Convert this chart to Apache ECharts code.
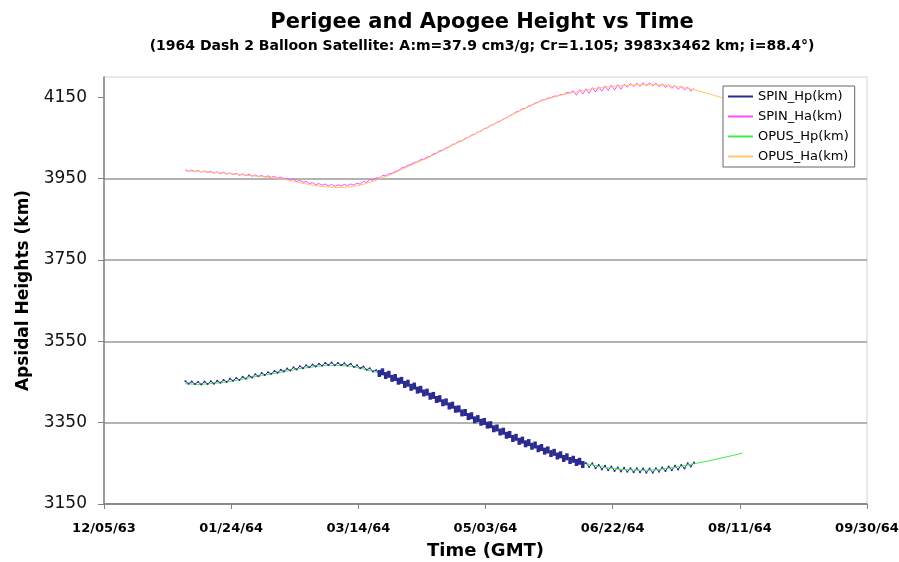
<!DOCTYPE html>
<html>
<head>
<meta charset="utf-8">
<script src="https://cdn.jsdelivr.net/npm/echarts@6/dist/echarts.min.js"></script>
<style>
    html, body { margin: 0; padding: 0; background: #fff; }
    #chartDom { width: 899px; height: 562px; }
</style>
</head>
<body>
<div id="chartDom"></div>
<script>
// x values are days after 12/05/63
const xTickLabels = ['12/05/63', '01/24/64', '03/14/64', '05/03/64', '06/22/64', '08/11/64', '09/30/64'];
const yTickValues = [3150, 3350, 3550, 3750, 3950, 4150];

// SPIN solution: one value every 1.25 days starting on day 32
const spinStart = 32;
const spinStep = 1.25;
const spinHp = [
    3452, 3446, 3451, 3445, 3450, 3444, 3451, 3445,
    3452, 3446, 3453, 3448, 3455, 3450, 3458, 3453,
    3460, 3455, 3463, 3458, 3466, 3461, 3469, 3464,
    3472, 3467, 3474, 3470, 3477, 3473, 3480, 3476,
    3483, 3478, 3486, 3481, 3489, 3484, 3491, 3486,
    3493, 3488, 3495, 3490, 3497, 3492, 3498, 3491,
    3497, 3491, 3496, 3490, 3495, 3487, 3491, 3484,
    3488, 3480, 3484, 3476, 3479, 3471, 3475, 3466,
    3469, 3459, 3461, 3452, 3454, 3444, 3447, 3437,
    3440, 3430, 3432, 3423, 3425, 3415, 3417, 3407,
    3409, 3399, 3401, 3391, 3393, 3383, 3384, 3374,
    3375, 3365, 3367, 3357, 3360, 3351, 3353, 3344,
    3345, 3335, 3337, 3327, 3329, 3319, 3321, 3311,
    3314, 3304, 3307, 3298, 3301, 3292, 3295, 3286,
    3289, 3280, 3283, 3274, 3277, 3268, 3271, 3262,
    3266, 3257, 3260, 3252, 3255, 3247, 3251, 3241,
    3250, 3238, 3246, 3235, 3244, 3233, 3242, 3231,
    3240, 3230, 3239, 3229, 3238, 3228, 3238, 3228,
    3237, 3227, 3237, 3227, 3238, 3229, 3240, 3231,
    3242, 3233, 3244, 3235, 3246, 3237, 3250, 3242,
    3252
];
const spinHa = [
    3972, 3968, 3971, 3967, 3970, 3966, 3969, 3965,
    3968, 3963, 3967, 3962, 3966, 3961, 3964, 3960,
    3963, 3958, 3962, 3957, 3961, 3956, 3959, 3955,
    3958, 3954, 3957, 3953, 3956, 3951, 3954, 3949,
    3951, 3946, 3949, 3943, 3946, 3941, 3943, 3938,
    3940, 3935, 3938, 3934, 3937, 3932, 3936, 3931,
    3935, 3932, 3936, 3933, 3937, 3934, 3939, 3936,
    3943, 3941, 3948, 3946, 3952, 3951, 3958, 3957,
    3962, 3963, 3968, 3970, 3976, 3978, 3983, 3985,
    3990, 3991, 3997, 3998, 4003, 4005, 4011, 4013,
    4019, 4020, 4026, 4028, 4034, 4036, 4042, 4043,
    4049, 4051, 4057, 4059, 4065, 4067, 4073, 4075,
    4081, 4083, 4089, 4091, 4097, 4099, 4105, 4108,
    4114, 4116, 4122, 4123, 4129, 4131, 4136, 4138,
    4143, 4144, 4148, 4149, 4153, 4153, 4157, 4157,
    4162, 4161, 4166, 4155, 4169, 4158, 4171, 4160,
    4174, 4163, 4176, 4165, 4178, 4167, 4180, 4168,
    4181, 4170, 4182, 4175, 4184, 4176, 4185, 4177,
    4186, 4178, 4186, 4178, 4185, 4176, 4183, 4174,
    4181, 4172, 4179, 4170, 4177, 4168, 4175, 4165,
    4172
];

// OPUS solution
const opusDays = [32, 37, 42, 47, 52, 57, 62, 67, 72, 77, 82, 87, 92, 97, 102, 107, 112, 117, 122, 127,
    132, 137, 142, 147, 152, 157, 162, 167, 172, 177, 182, 187, 192, 197, 202, 207, 212, 217, 222, 227,
    232, 237, 242, 247, 251];
const opusHp = [3446, 3444, 3446, 3449, 3454, 3460, 3466, 3471, 3477, 3483, 3487, 3491, 3491, 3489, 3482,
    3474, 3464, 3450, 3436, 3421, 3405, 3389, 3371, 3356, 3342, 3326, 3312, 3299, 3286, 3274, 3263, 3253,
    3246, 3240, 3236, 3234, 3233, 3234, 3238, 3243, 3249, 3255, 3262, 3269, 3275];
const opusHa = [3969, 3968, 3966, 3964, 3961, 3958, 3955, 3952, 3947, 3940, 3934, 3930, 3928, 3930, 3936,
    3946, 3958, 3972, 3987, 4000, 4016, 4032, 4047, 4064, 4080, 4096, 4112, 4127, 4141, 4151, 4159, 4165,
    4171, 4175, 4178, 4180, 4181, 4181, 4179, 4175, 4169, 4160, 4151, 4143, 4136];

// days where the SPIN perigee points pile up into a thick band
const bandFrom = 108;
const bandTo = 189;

function spinPairs(values) {
    return values.map((v, i) => [spinStart + i * spinStep, v]);
}

function opusPairs(values) {
    return values.map((v, i) => [opusDays[i], v]);
}

function inBand(val) {
    return val[0] > bandFrom && val[0] < bandTo;
}

let chart = echarts.init(document.getElementById('chartDom'));

let option = {
    animation: false,
    backgroundColor: '#fff',
    title: {
        text: 'Perigee and Apogee Height vs Time',
        subtext: '(1964 Dash 2 Balloon Satellite: A:m=37.9 cm3/g; Cr=1.105; 3983x3462 km; i=88.4°)',
        left: 477,
        top: 7,
        textAlign: 'center',
        itemGap: 6,
        textStyle: {
            fontFamily: 'DejaVu Sans',
            fontWeight: 'bold',
            fontSize: 21,
            color: '#000'
        },
        subtextStyle: {
            fontFamily: 'DejaVu Sans',
            fontWeight: 'bold',
            fontSize: 14,
            color: '#000'
        }
    },
    legend: {
        orient: 'vertical',
        left: 723,
        top: 86,
        padding: [4, 6, 4, 5],
        itemWidth: 25,
        itemHeight: 2,
        itemGap: 7,
        backgroundColor: '#fff',
        borderColor: '#666',
        borderWidth: 1,
        icon: 'rect',
        textStyle: {
            fontFamily: 'DejaVu Sans',
            fontSize: 13,
            color: '#000'
        },
        data: ['SPIN_Hp(km)', 'SPIN_Ha(km)', 'OPUS_Hp(km)', 'OPUS_Ha(km)']
    },
    grid: {
        left: 104,
        right: 32,
        top: 77,
        bottom: 58,
        outerBoundsMode: 'none',
        show: true,
        borderColor: '#d4d4d4',
        borderWidth: 1
    },
    xAxis: {
        type: 'value',
        min: 0,
        max: 300,
        interval: 50,
        name: 'Time (GMT)',
        nameLocation: 'middle',
        nameGap: 38,
        nameTextStyle: {
            fontFamily: 'DejaVu Sans',
            fontWeight: 'bold',
            fontSize: 18,
            color: '#000'
        },
        axisLine: { lineStyle: { color: '#808080', width: 1.5 } },
        axisTick: { length: 5, lineStyle: { color: '#808080' } },
        splitLine: { show: false },
        axisLabel: {
            margin: 18,
            fontFamily: 'DejaVu Sans',
            fontWeight: 'bold',
            fontSize: 13,
            color: '#000',
            formatter: (v) => xTickLabels[Math.round(v / 50)]
        }
    },
    yAxis: {
        type: 'value',
        min: 3150,
        max: 4200,
        interval: 200,
        name: 'Apsidal Heights (km)',
        nameLocation: 'middle',
        nameGap: 72,
        nameTextStyle: {
            fontFamily: 'DejaVu Sans',
            fontWeight: 'bold',
            fontSize: 17,
            color: '#000'
        },
        axisLine: { show: true, lineStyle: { color: '#808080', width: 1.5 } },
        axisTick: { show: true, length: 6, customValues: yTickValues, lineStyle: { color: '#808080' } },
        splitLine: { show: true, showMaxLine: false, lineStyle: { color: '#9a9a9a', width: 1.5 } },
        axisLabel: {
            margin: 17,
            customValues: yTickValues,
            fontFamily: 'DejaVu Sans',
            fontSize: 17,
            color: '#111',
            formatter: (v) => String(v)
        }
    },
    series: [
        {
            name: 'SPIN_Hp(km)',
            type: 'line',
            data: spinPairs(spinHp),
            color: '#2a2a90',
            lineStyle: { width: 1 },
            symbol: (val) => (inBand(val) ? 'rect' : 'circle'),
            symbolSize: (val) => (inBand(val) ? [3.5, 7] : 2),
            showAllSymbol: true
        },
        {
            name: 'SPIN_Ha(km)',
            type: 'line',
            data: spinPairs(spinHa),
            color: '#ff4dff',
            lineStyle: { width: 1 },
            symbol: 'none'
        },
        {
            name: 'OPUS_Hp(km)',
            type: 'line',
            z: 3,
            data: opusPairs(opusHp),
            color: '#45e845',
            lineStyle: { width: 1 },
            symbol: 'none'
        },
        {
            name: 'OPUS_Ha(km)',
            type: 'line',
            data: opusPairs(opusHa),
            color: '#ffc66b',
            lineStyle: { width: 1 },
            symbol: 'none'
        }
    ]
};

chart.setOption(option);
</script>
</body>
</html>
